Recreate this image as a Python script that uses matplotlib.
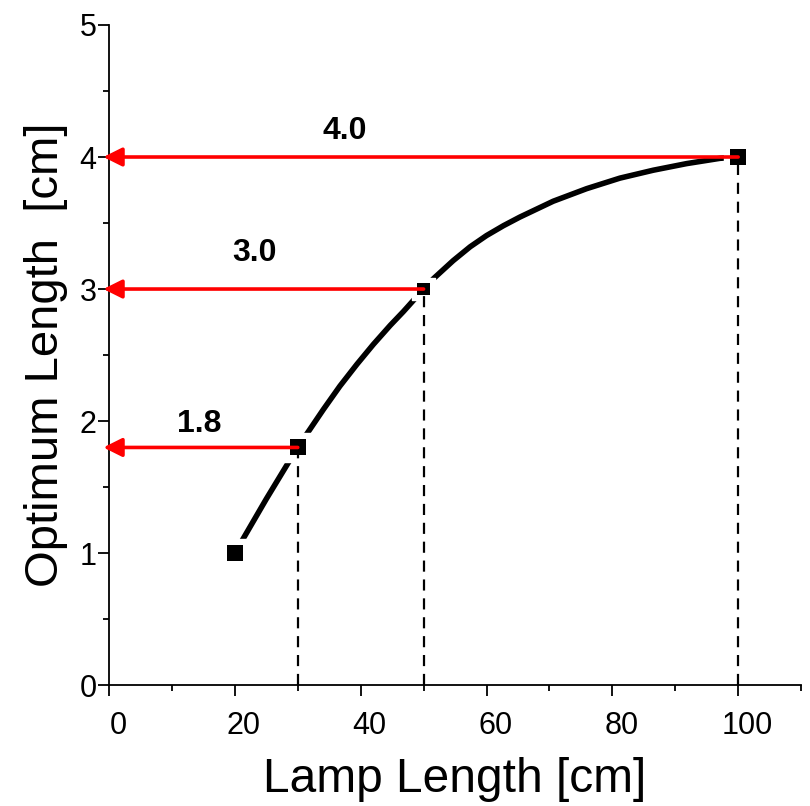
import numpy as np
import matplotlib.pyplot as plt
import matplotlib.transforms as mtransforms
from matplotlib import font_manager

plt.rcParams['font.family'] = ['Liberation Sans', 'DejaVu Sans']

# pick the regular-width bold face explicitly (avoid the Narrow variant)
bold_font = None
for f in font_manager.fontManager.ttflist:
    if f.name == 'Liberation Sans' and f.weight in (700, 'bold') and 'Narrow' not in f.fname:
        bold_font = font_manager.FontProperties(fname=f.fname)
        break
if bold_font is None:
    bold_font = font_manager.FontProperties(family='DejaVu Sans', weight='bold')

# data points (lamp length, optimum length)
pts_x = [20, 30, 50, 100]
pts_y = [1.0, 1.8, 3.0, 4.0]
pts_size = [132, 132, 80, 132]

# smooth curve
curve_x = [20, 21.4, 25, 28.5, 30, 31.4, 34.1, 36.7, 39.4, 42.0, 44.7, 46.8, 48.4, 50,
           51.6, 54.7, 57.4, 60.0, 62.7, 65.3, 70.6, 75.9, 81.2, 86.5, 91.8, 97.1, 100]
curve_y = [1.0, 1.115, 1.41, 1.685, 1.80, 1.90, 2.09, 2.265, 2.43, 2.58, 2.725, 2.83, 2.915, 3.0,
           3.08, 3.215, 3.32, 3.405, 3.48, 3.545, 3.665, 3.76, 3.84, 3.90, 3.95, 3.99, 4.0]

# marked readings
mark_x = [30, 50, 100]
mark_y = [1.8, 3.0, 4.0]
mark_text = ['1.8', '3.0', '4.0']
text_pos = [(14.3, 1.98), (23.1, 3.27), (37.5, 4.20)]

fig = plt.figure(figsize=(8.1, 8.06), dpi=100)
ax = fig.add_axes([0.1346, 0.150, 0.8544, 0.819])

ax.plot(curve_x, curve_y, color='black', lw=4, solid_capstyle='butt',
        solid_joinstyle='round', zorder=2)
ax.scatter(pts_x, pts_y, s=[v * 3.2 for v in pts_size], marker='s', color='white', zorder=3)

for x, y in zip(mark_x, mark_y):
    ax.plot([x, x], [0, y], color='black', lw=1.6, dashes=(5, 3.5), zorder=4)

ax.scatter(pts_x, pts_y, s=pts_size, marker='s', color='black', lw=0, zorder=5)

for x, y, t, (tx, ty) in zip(mark_x, mark_y, mark_text, text_pos):
    ax.annotate('', xy=(-0.9, y), xytext=(x, y),
                arrowprops=dict(arrowstyle='-|>', color='red', lw=2.6,
                                mutation_scale=28, shrinkA=0, shrinkB=0),
                zorder=6, annotation_clip=False)
    ax.text(tx, ty, t, fontproperties=bold_font, fontsize=23, ha='center', va='center')

ax.set_xlim(0, 110)
ax.set_ylim(0, 5)
ax.set_xticks([0, 20, 40, 60, 80, 100])
ax.set_xticks(np.arange(10, 111, 20), minor=True)
ax.set_yticks([0, 1, 2, 3, 4, 5])
ax.set_yticks(np.arange(0.5, 5, 1), minor=True)

for s in ['top', 'right']:
    ax.spines[s].set_visible(False)
for s in ['left', 'bottom']:
    ax.spines[s].set_linewidth(1.3)

ax.tick_params(axis='both', which='major', direction='out', length=8, width=1.3, labelsize=22)
ax.tick_params(axis='both', which='minor', direction='out', length=4.5, width=1.3)
ax.tick_params(axis='x', which='major', pad=11)
ax.tick_params(axis='y', which='major', pad=1)

offset = mtransforms.ScaledTranslation(9 / 100, 0, fig.dpi_scale_trans)
for lab in ax.get_xticklabels():
    lab.set_transform(lab.get_transform() + offset)

ax.set_xlabel('Lamp Length [cm]', fontsize=34.5, labelpad=11)
ax.set_ylabel('Optimum Length  [cm]', fontsize=34, labelpad=8)

fig.savefig('out.png', dpi=100)
